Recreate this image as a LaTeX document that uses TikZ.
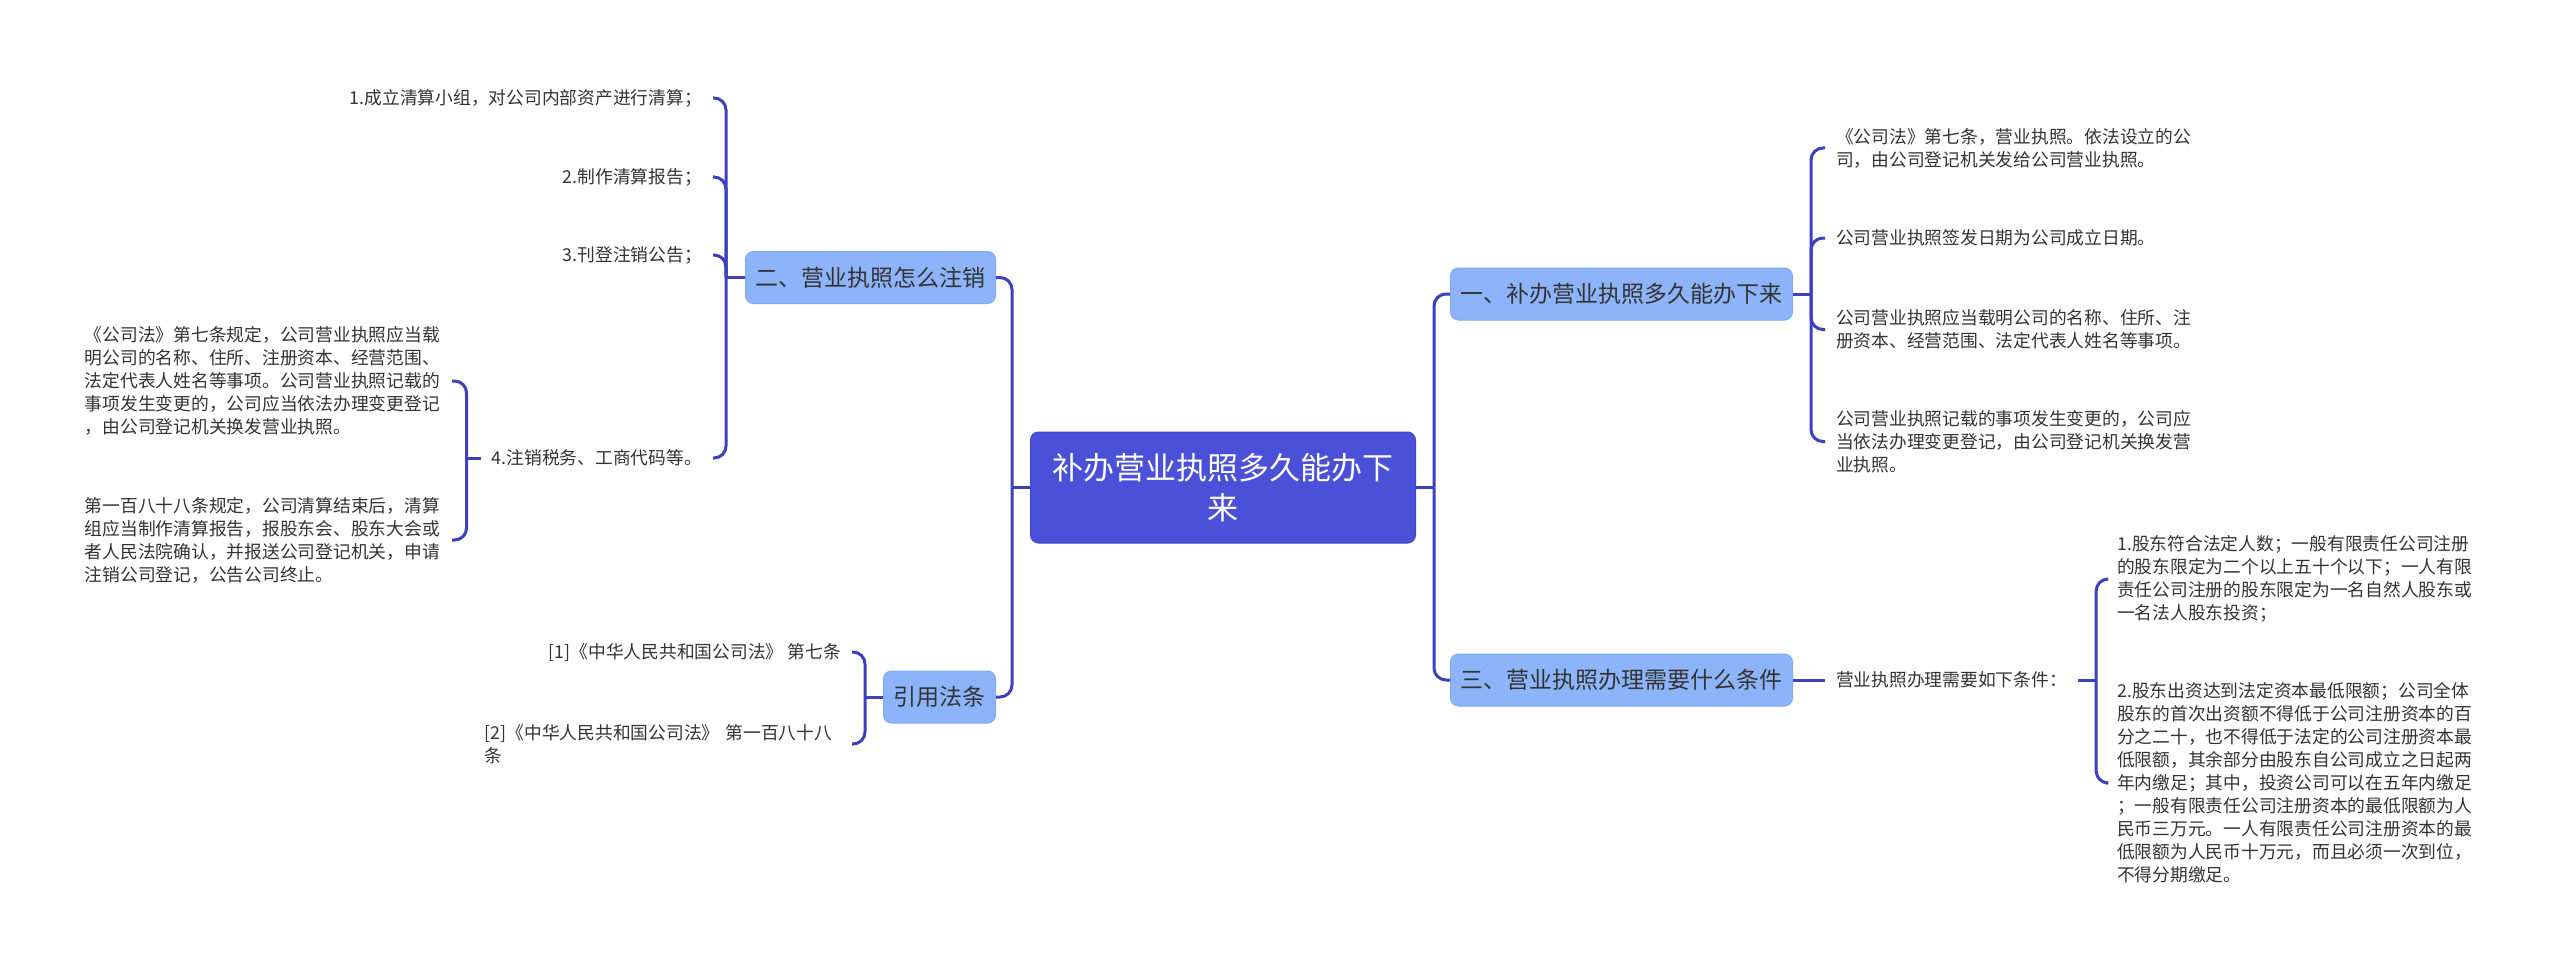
\documentclass[tikz,border=0pt]{standalone}
\usepackage{fontspec}
\setmainfont{Noto Sans CJK SC}
\definecolor{linkc}{HTML}{3C3FBE}
\definecolor{rootfill}{HTML}{4A51D8}
\definecolor{rootdraw}{HTML}{4047C8}
\definecolor{topicfill}{HTML}{8DB4FA}
\definecolor{topicdraw}{HTML}{80AAF6}
\definecolor{txt}{HTML}{333333}
\tikzset{
  rootbox/.style={draw=rootdraw, fill=rootfill, rounded corners=8pt, line width=1pt, text=white,
    font=\fontsize{31}{40}\selectfont, align=center, minimum width=385pt, minimum height=111pt, inner sep=0pt},
  topicbox/.style={draw=topicdraw, fill=topicfill, rounded corners=8pt, line width=1pt, text=txt,
    font=\fontsize{23}{28}\selectfont, minimum height=52pt, inner xsep=10pt, inner ysep=0pt},
  leafbox/.style={text=txt, font=\fontsize{17.75}{23}\selectfont, inner xsep=11pt, inner ysep=2pt},
  blockbox/.style={leafbox, text width=356pt, align=left},
  linkline/.style={draw=linkc, line width=3pt, rounded corners=12pt},
}
\begin{document}
\begin{tikzpicture}[x=1pt,y=-1pt]
\fill[white] (0,0) rectangle (2560,971);
\useasboundingbox (0,0) rectangle (2560,971);

% main nodes
\node[rootbox] (root) at (1223,487.5) {补办营业执照多久能办下\\来};
\node[topicbox] (t2) at (870.5,277.5) {二、营业执照怎么注销};
\node[topicbox] (t4) at (939.5,697) {引用法条};
\node[topicbox] (t1) at (1621.5,294) {一、补办营业执照多久能办下来};
\node[topicbox] (t3) at (1621.5,680) {三、营业执照办理需要什么条件};

% left: 二
\node[leafbox, anchor=east] (l1) at (713,98) {1.成立清算小组，对公司内部资产进行清算；};
\node[leafbox, anchor=east] (l2) at (713,177) {2.制作清算报告；};
\node[leafbox, anchor=east] (l3) at (713,255) {3.刊登注销公告；};
\node[leafbox, anchor=east] (l4) at (713,458) {4.注销税务、工商代码等。};
\node[blockbox, anchor=east] (la) at (452,381) {《公司法》第七条规定，公司营业执照应当载\\明公司的名称、住所、注册资本、经营范围、\\法定代表人姓名等事项。公司营业执照记载的\\事项发生变更的，公司应当依法办理变更登记\\，由公司登记机关换发营业执照。};
\node[blockbox, anchor=east] (lb) at (452,540) {第一百八十八条规定，公司清算结束后，清算\\组应当制作清算报告，报股东会、股东大会或\\者人民法院确认，并报送公司登记机关，申请\\注销公司登记，公告公司终止。};

% left: 引用法条
\node[leafbox, anchor=east] (q1) at (852,652) {[1]《中华人民共和国公司法》 第七条};
\node[blockbox, anchor=east] (q2) at (852,744) {[2]《中华人民共和国公司法》 第一百八十八\\条};

% right: 一
\node[blockbox, anchor=west] (r1) at (1825,148) {《公司法》第七条，营业执照。依法设立的公\\司，由公司登记机关发给公司营业执照。};
\node[blockbox, anchor=west] (r2) at (1825,238) {公司营业执照签发日期为公司成立日期。};
\node[blockbox, anchor=west] (r3) at (1825,329.5) {公司营业执照应当载明公司的名称、住所、注\\册资本、经营范围、法定代表人姓名等事项。};
\node[blockbox, anchor=west] (r4) at (1825,441.5) {公司营业执照记载的事项发生变更的，公司应\\当依法办理变更登记，由公司登记机关换发营\\业执照。};

% right: 三
\node[leafbox, anchor=west] (c30) at (1825,680) {营业执照办理需要如下条件：};
\node[blockbox, anchor=west] (c31) at (2106,579) {1.股东符合法定人数；一般有限责任公司注册\\的股东限定为二个以上五十个以下；一人有限\\责任公司注册的股东限定为一名自然人股东或\\一名法人股东投资；};
\node[blockbox, anchor=west] (c32) at (2106,783) {2.股东出资达到法定资本最低限额；公司全体\\股东的首次出资额不得低于公司注册资本的百\\分之二十，也不得低于法定的公司注册资本最\\低限额，其余部分由股东自公司成立之日起两\\年内缴足；其中，投资公司可以在五年内缴足\\；一般有限责任公司注册资本的最低限额为人\\民币三万元。一人有限责任公司注册资本的最\\低限额为人民币十万元，而且必须一次到位，\\不得分期缴足。};

% junctions
\coordinate (jl) at ([xshift=-18pt]root.west);
\coordinate (jr) at ([xshift=18pt]root.east);
\coordinate (j2) at ([xshift=-19pt]t2.west);
\coordinate (j4) at ([xshift=-18pt]t4.west);
\coordinate (j1) at ([xshift=18pt]t1.east);
\coordinate (j5) at ([xshift=-14pt]l4.west);
\coordinate (j6) at ([xshift=18pt]c30.east);

% connectors
\draw[linkline] (root.west) -- (jl);
\draw[linkline] (jl) |- (t2.east);
\draw[linkline] (jl) |- (t4.east);
\draw[linkline] (root.east) -- (jr);
\draw[linkline] (jr) |- (t1.west);
\draw[linkline] (jr) |- (t3.west);

\draw[linkline] (t2.west) -- (j2);
\draw[linkline] (j2) |- (l1.east);
\draw[linkline] (j2) |- (l2.east);
\draw[linkline] (j2) |- (l3.east);
\draw[linkline] (j2) |- (l4.east);
\draw[linkline] (l4.west) -- (j5);
\draw[linkline] (j5) |- (la.east);
\draw[linkline] (j5) |- (lb.east);

\draw[linkline] (t4.west) -- (j4);
\draw[linkline] (j4) |- (q1.east);
\draw[linkline] (j4) |- (q2.east);

\draw[linkline] (t1.east) -- (j1);
\draw[linkline] (j1) |- (r1.west);
\draw[linkline] (j1) |- (r2.west);
\draw[linkline] (j1) |- (r3.west);
\draw[linkline] (j1) |- (r4.west);

\draw[linkline] (t3.east) -- (c30.west);
\draw[linkline] (c30.east) -- (j6);
\draw[linkline] (j6) |- (c31.west);
\draw[linkline] (j6) |- (c32.west);
\end{tikzpicture}
\end{document}
